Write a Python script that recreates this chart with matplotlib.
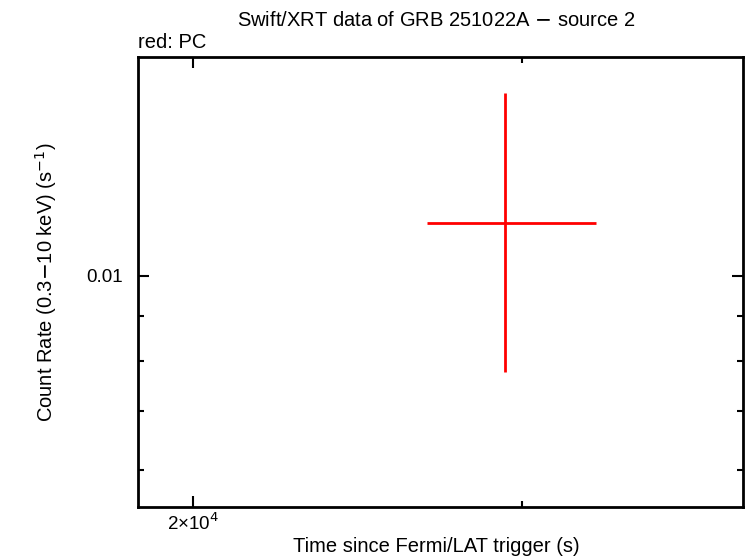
import matplotlib
matplotlib.use("Agg")
import matplotlib.pyplot as plt
from matplotlib.ticker import FixedLocator, NullFormatter, FixedFormatter

plt.rcParams['font.family'] = ['Liberation Sans', 'DejaVu Sans']

# data (PC mode)
t = [29400.0]
t_lo = [26680.0]
t_hi = [32860.0]
rate = [0.01149]
rate_lo = [0.00777]
rate_hi = [0.01619]

xmajor = [2e4]
xmajor_labels = ["2×10$^{4}$"]
xminor = [3e4]
ymajor = [0.01]
ymajor_labels = ["0.01"]
yminor = [0.006, 0.007, 0.008, 0.009]

fig = plt.figure(figsize=(7.46, 5.58), dpi=100)
ax = fig.add_axes([138/746, 1-507/558, (743-138)/746, (507-57)/558])

xerr = [[t[i]-t_lo[i] for i in range(len(t))], [t_hi[i]-t[i] for i in range(len(t))]]
yerr = [[rate[i]-rate_lo[i] for i in range(len(t))], [rate_hi[i]-rate[i] for i in range(len(t))]]
ax.errorbar(t, rate, xerr=xerr, yerr=yerr, fmt='none', ecolor='red', elinewidth=2, capsize=0)

ax.set_xscale('log')
ax.set_yscale('log')
ax.set_xlim(18700, 39400)
ax.set_ylim(0.00544, 0.0178)

ax.xaxis.set_major_locator(FixedLocator(xmajor))
ax.xaxis.set_major_formatter(FixedFormatter(xmajor_labels))
ax.xaxis.set_minor_locator(FixedLocator(xminor))
ax.xaxis.set_minor_formatter(NullFormatter())
ax.yaxis.set_major_locator(FixedLocator(ymajor))
ax.yaxis.set_major_formatter(FixedFormatter(ymajor_labels))
ax.yaxis.set_minor_locator(FixedLocator(yminor))
ax.yaxis.set_minor_formatter(NullFormatter())

ax.tick_params(which='both', direction='in', top=True, right=True, width=1.5, labelsize=13.5)
ax.tick_params(axis='x', pad=4)
ax.tick_params(axis='y', pad=11)
ax.tick_params(which='major', length=8)
ax.tick_params(which='minor', length=4)
for s in ax.spines.values():
    s.set_linewidth(2)

fs = 14.5
fig.text(436/746, 1-547/558, "Time since Fermi/LAT trigger (s)", ha='center', va='center', fontsize=fs)
fig.text(46/746, 1-282/558, "Count Rate (0.3$-$10 keV) (s$^{-1}$)", ha='center', va='center', fontsize=fs, rotation=90)
fig.text(436/746, 1-20/558, "Swift/XRT data of GRB 251022A $-$ source 2", ha='center', va='center', fontsize=fs)
fig.text(138/746, 1-43/558, "red: PC", ha='left', va='center', fontsize=fs)

fig.savefig("out.png", dpi=100)
